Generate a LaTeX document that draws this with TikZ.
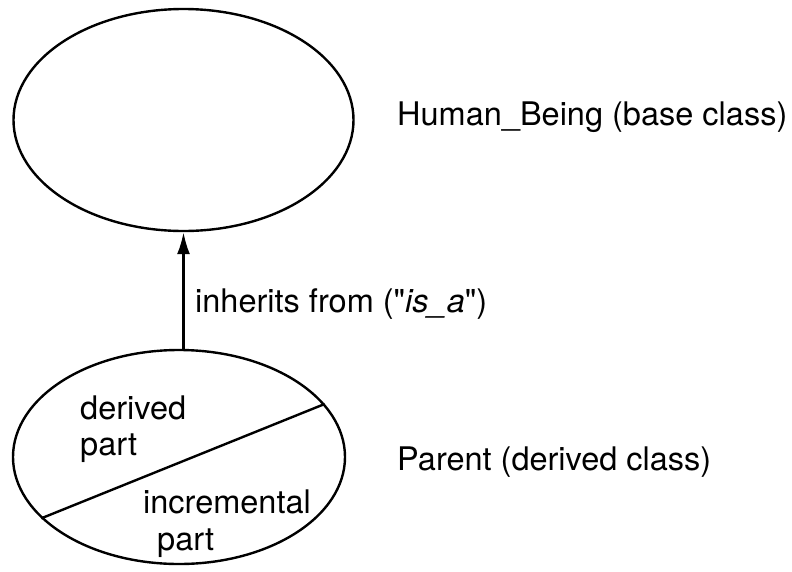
\documentclass[tikz,border=0pt]{standalone}
\usepackage{fontspec}
\setmainfont{TeX Gyre Heros}
\usetikzlibrary{positioning,shapes.geometric,arrows.meta}

\tikzset{
    classblob/.style={draw, ellipse, line width=2.4pt, inner sep=0pt},
    lbl/.style={anchor=base west, inner sep=0pt},
}

\begin{document}
\begin{tikzpicture}[x=1pt,y=-1pt]
                \fontsize{32.5}{39}\selectfont
                \useasboundingbox (0,0) rectangle (792,571);

                % the two classes
                \node [classblob, minimum width=340pt, minimum height=222pt] (base) at (183.5,120) {};
                \node [classblob, minimum width=332pt, minimum height=214pt] (parent) at (179,457) {};

                \draw [line width=2.4pt, -{Latex[length=22pt,width=13pt]}] (parent.north -| base.south) -- (base.south);
                \draw [line width=2.4pt] (parent.204) -- (parent.20);

                \node [lbl] (derived) at (80,419) {derived};
                \node [lbl] (derivedb) at (80,455) {part};
                \node [lbl] (incr) at (143,513) {incremental};
                \node [lbl] (incrb) at (157,550) {part};

                \node [lbl] (basename) at (397,125) {Human\_Being (base class)};
                \node [lbl] (parentname) at (397,470) {Parent (derived class)};
                \node [lbl] (isa) at (195,312) {inherits from (\textquotedbl\textit{is\_a}\textquotedbl)};
            \end{tikzpicture}
\end{document}
